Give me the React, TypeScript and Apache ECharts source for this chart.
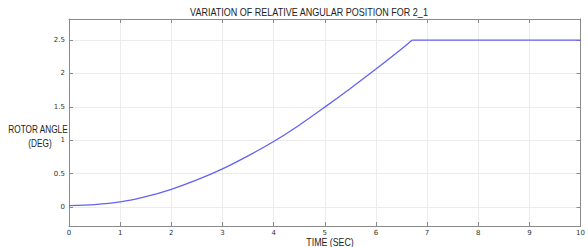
import React, { useEffect, useRef } from "react";
import * as echarts from "echarts";

const timeSec = [0, 0.5, 1, 1.5, 2, 2.5, 3, 3.5, 4, 4.5, 5, 5.5, 6, 6.5, 6.71, 7, 8, 9, 10];
const rotorAngle = [0.02, 0.035, 0.075, 0.155, 0.265, 0.405, 0.57, 0.765, 0.98, 1.225, 1.495, 1.775, 2.065, 2.365, 2.5, 2.5, 2.5, 2.5, 2.5];
const cornerIndex = 14; // index where the angle saturates
const titleText = "VARIATION OF RELATIVE ANGULAR POSITION FOR 2_1";
const yNameLines = ["ROTOR ANGLE", "(DEG)"];
const xNameText = "TIME (SEC)";

export default function App() {
  const ref = useRef<HTMLDivElement>(null);
  useEffect(() => {
    if (!ref.current) return;
    const chart = echarts.init(ref.current, null, { renderer: "svg" });
    const axisColor = "#8a8a8a";
    const labelStyle = { color: "#333", fontSize: 7, fontFamily: "DejaVu Sans" };
    const tickFmt = (v: number) =>
      Math.abs(v * 2 - Math.round(v * 2)) < 1e-6 ? String(Math.round(v * 10) / 10) : "";
    const font = "'Liberation Sans', sans-serif";
    const nameText = (text: string, x: number, y: number, sx: number) => ({
      type: "text",
      x,
      y,
      scaleX: sx,
      style: { text, font: `11px ${font}`, fill: "#222", align: "center", verticalAlign: "middle" },
    });
    const pts = timeSec.map((t, i) => [t, rotorAngle[i]]);
    const lineStyle = { color: "#6262f4", width: 1.3 };
    chart.setOption({
      animation: false,
      grid: { left: 69, right: 5, top: 19, bottom: 21, containLabel: false },
      graphic: [
        nameText(titleText, 309, 12, 0.82),
        nameText(yNameLines[0], 38, 129, 0.75),
        nameText(yNameLines[1], 40, 143, 0.75),
        nameText(xNameText, 330, 242, 0.8),
      ],
      xAxis: [
        {
          type: "value", min: 0, max: 10, interval: 1, position: "bottom",
          axisLine: { show: true, onZero: false, lineStyle: { color: axisColor } },
          axisTick: { show: true, inside: true, length: 4, lineStyle: { color: axisColor } },
          axisLabel: { ...labelStyle, margin: 3 },
          splitLine: { show: true, lineStyle: { color: "#ececec", width: 1 } },
        },
        {
          type: "value", min: 0, max: 10, interval: 1, position: "top",
          axisLine: { show: true, onZero: false, lineStyle: { color: axisColor } },
          axisTick: { show: true, inside: true, length: 4, lineStyle: { color: axisColor } },
          axisLabel: { show: false },
          splitLine: { show: false },
        },
      ],
      yAxis: [
        {
          type: "value", min: -0.285, max: 2.815, splitNumber: 6, position: "left",
          axisLine: { show: true, onZero: false, lineStyle: { color: axisColor } },
          axisTick: { show: true, inside: true, length: 4, lineStyle: { color: axisColor } },
          axisLabel: { ...labelStyle, margin: 4, formatter: tickFmt },
          splitLine: { show: true, lineStyle: { color: "#ececec", width: 1 } },
        },
        {
          type: "value", min: -0.285, max: 2.815, splitNumber: 6, position: "right",
          axisLine: { show: true, onZero: false, lineStyle: { color: axisColor } },
          axisTick: { show: true, inside: true, length: 4, lineStyle: { color: axisColor } },
          axisLabel: { show: false },
          splitLine: { show: false },
        },
      ],
      series: [
        {
          type: "line",
          xAxisIndex: 0,
          yAxisIndex: 0,
          data: pts.slice(0, cornerIndex + 1),
          showSymbol: false,
          smooth: 0.3,
          lineStyle,
        },
        {
          type: "line",
          xAxisIndex: 0,
          yAxisIndex: 0,
          data: pts.slice(cornerIndex),
          showSymbol: false,
          smooth: false,
          lineStyle,
        },
      ],
    });
    return () => chart.dispose();
  }, []);
  return <div ref={ref} style={{ width: 588, height: 247, position: "absolute", left: 0, top: 0 }} />;
}
